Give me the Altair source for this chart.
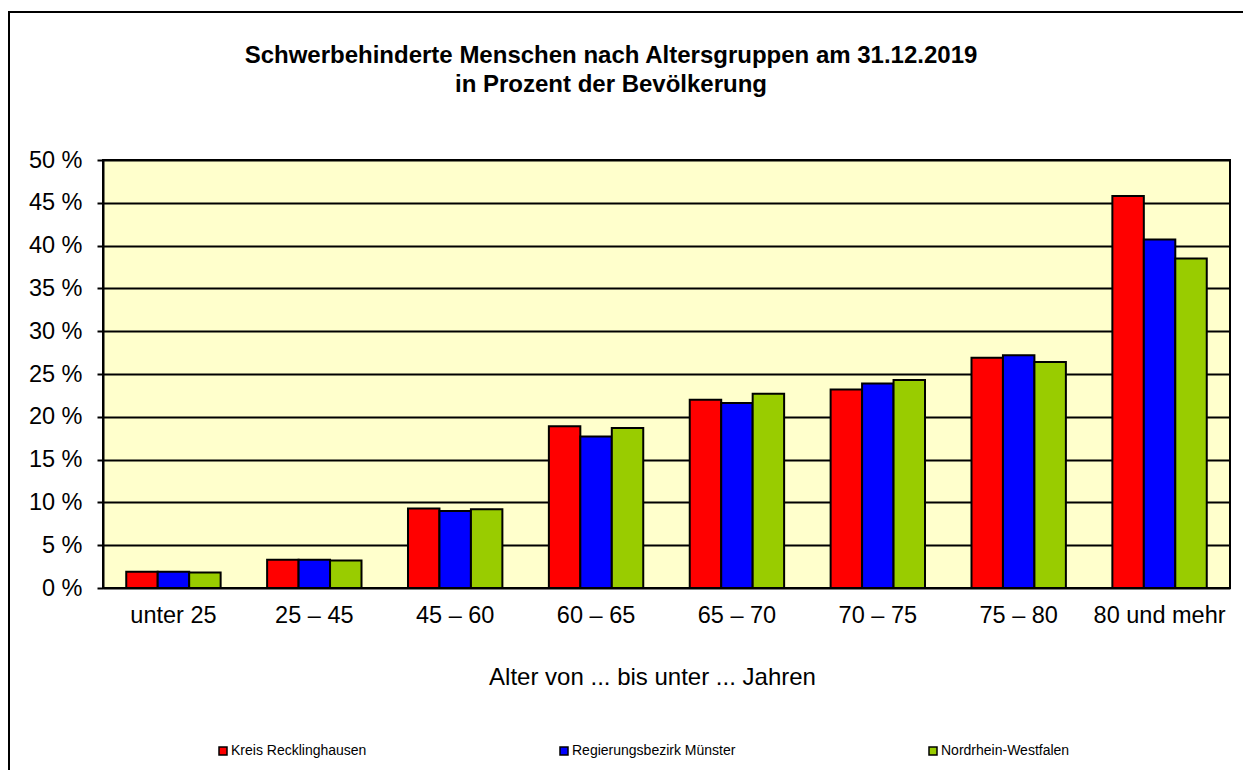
import altair as alt
import pandas as pd

categories = ["unter 25", "25 – 45", "45 – 60", "60 – 65", "65 – 70", "70 – 75", "75 – 80", "80 und mehr"]
series = ["Kreis Recklinghausen", "Regierungsbezirk Münster", "Nordrhein-Westfalen"]
kreis = [1.9, 3.3, 9.3, 18.9, 22.0, 23.2, 26.9, 45.8]
rbz = [1.9, 3.3, 9.0, 17.7, 21.6, 23.9, 27.2, 40.7]
nrw = [1.8, 3.2, 9.2, 18.7, 22.7, 24.3, 26.4, 38.5]
colors = ["#FF0000", "#0000FF", "#99CC00"]
y_ticks = [0, 5, 10, 15, 20, 25, 30, 35, 40, 45, 50]
title_lines = ["Schwerbehinderte Menschen nach Altersgruppen am 31.12.2019", "in Prozent der Bevölkerung"]

rows = []
for s, vals in zip(series, [kreis, rbz, nrw]):
    for c, v in zip(categories, vals):
        rows.append({"Altersgruppe": c, "Gebiet": s, "Wert": v})
df = pd.DataFrame(rows)

FONT = "Liberation Sans"
AX = 23.5

bars = alt.Chart(df).mark_bar(stroke="black", strokeWidth=2).encode(
    x=alt.X("Altersgruppe:N", sort=categories,
            scale=alt.Scale(paddingInner=0.33, paddingOuter=0.165),
            axis=alt.Axis(title="Alter von ... bis unter ... Jahren", labelAngle=0,
                          ticks=False, domain=False, labelFontSize=AX, labelPadding=15,
                          titleFontSize=24, titleFontWeight="normal", titlePadding=39,
                          titleX=549, titleAlign="center",
                          labelColor="black", titleColor="black", labelFont=FONT, titleFont=FONT)),
    xOffset=alt.XOffset("Gebiet:N", sort=series, scale=alt.Scale(paddingInner=0, paddingOuter=0)),
    y=alt.Y("Wert:Q", scale=alt.Scale(domain=[0, 50], nice=False),
            axis=alt.Axis(title=None, values=y_ticks, labelExpr="datum.value + ' %'",
                          grid=True, gridColor="black", gridWidth=2, gridOpacity=1,
                          domainColor="black", domainWidth=2, tickColor="black", tickWidth=2,
                          tickSize=6, labelPadding=15, labelFontSize=AX, labelColor="black",
                          labelFont=FONT)),
    color=alt.Color("Gebiet:N", sort=series, scale=alt.Scale(domain=series, range=colors),
                    legend=alt.Legend(title=None, orient="none", legendX=113, legendY=584,
                                      direction="horizontal", columns=3, columnPadding=190,
                                      symbolType="square", symbolSize=64, symbolStrokeColor="black",
                                      symbolStrokeWidth=1.5, symbolOpacity=1, labelFontSize=14,
                                      labelOffset=1, labelLimit=400, labelFont=FONT, labelColor="black")),
)

title_df = pd.DataFrame({"line": title_lines, "pos": [0, 1]})
title1 = alt.Chart(title_df.iloc[[0]]).mark_text(
    font=FONT, fontSize=24, fontWeight="bold", color="black", align="center", baseline="alphabetic"
).encode(text="line:N", x=alt.value(508), y=alt.value(-97))
title2 = alt.Chart(title_df.iloc[[1]]).mark_text(
    font=FONT, fontSize=24, fontWeight="bold", color="black", align="center", baseline="alphabetic"
).encode(text="line:N", x=alt.value(508), y=alt.value(-68))

frame_df = pd.DataFrame({"k": [0]})
frame = alt.Chart(frame_df).mark_rect(fillOpacity=0, stroke="black", strokeWidth=2).encode(
    x=alt.value(-94), x2=alt.value(1300), y=alt.value(-148), y2=alt.value(800)
)

chart = alt.layer(bars, title1, title2, frame).properties(
    width=1127, height=428,
    padding={"left": 95, "top": 152, "right": 13, "bottom": 182},
    autosize=alt.AutoSizeParams(type="none"),
    background="white",
).configure_view(fill="#FFFFCC", stroke="black", strokeWidth=2)

chart.save("out.html", embed_options={"renderer": "svg", "actions": False})
